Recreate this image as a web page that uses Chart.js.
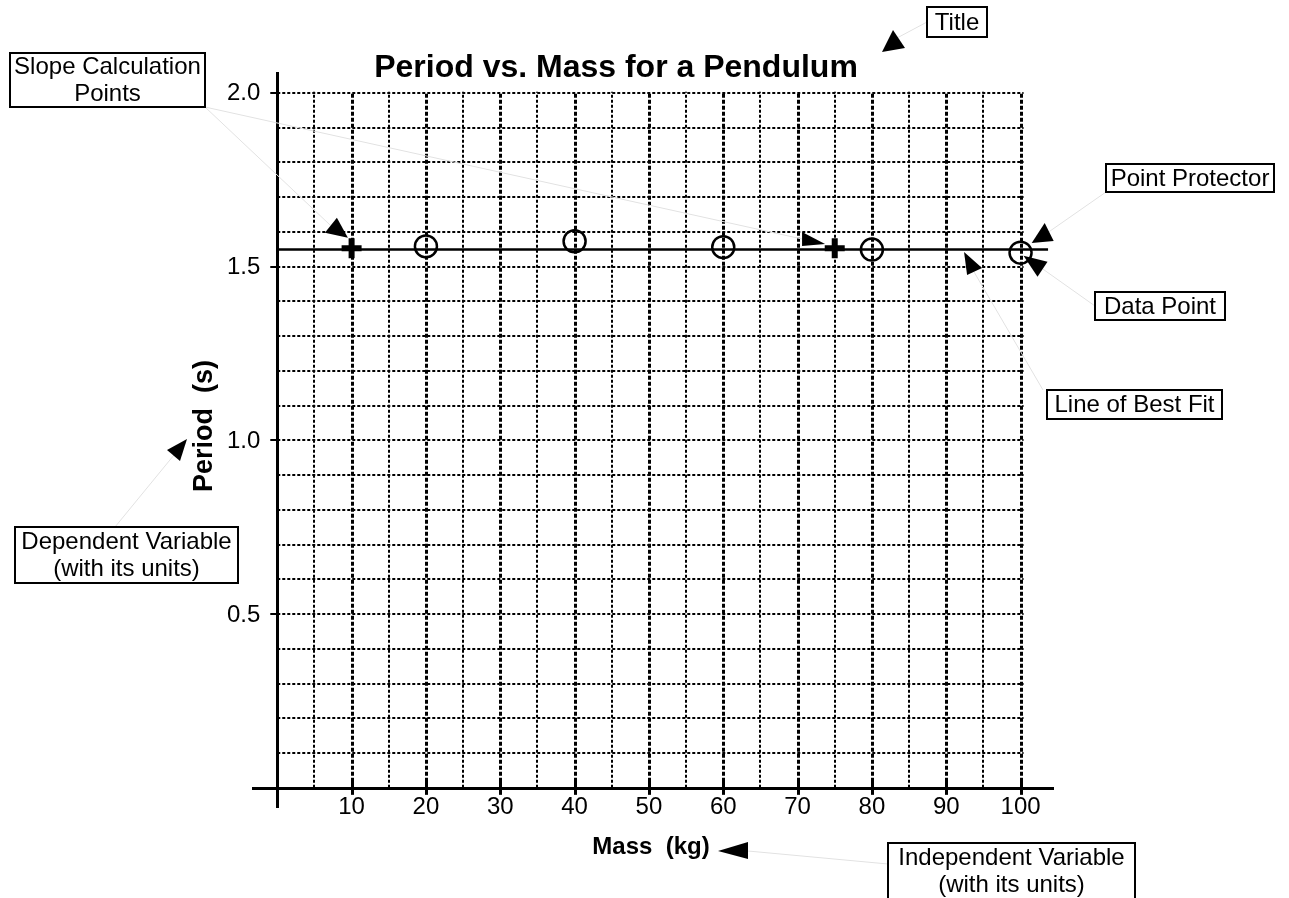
<!DOCTYPE html>
<html>
<head>
<meta charset="utf-8">
<script src="https://cdn.jsdelivr.net/npm/chart.js@4.4.1/dist/chart.umd.min.js"></script>
<style>
  html, body { margin: 0; padding: 0; background: #fff; }
  #wrap { width: 1289px; height: 898px; position: relative; }
</style>
</head>
<body>
<div id="wrap"><canvas id="chart" width="1289" height="898"></canvas></div>
<script>
// data
const masses = [20, 40, 60, 80, 100];
const periods = [1.558, 1.573, 1.556, 1.549, 1.540];
const slopeMasses = [10, 75];
const slopePeriods = [1.553, 1.553];
const fitMasses = [0, 103.7];
const fitPeriods = [1.549, 1.549];

const xTickValues = [10, 20, 30, 40, 50, 60, 70, 80, 90, 100];
const xTickLabels = ['10', '20', '30', '40', '50', '60', '70', '80', '90', '100'];
const yTickValues = [0.5, 1.0, 1.5, 2.0];
const yTickLabels = ['0.5', '1.0', '1.5', '2.0'];

const FONT = '"Liberation Sans", Arial, Helvetica, sans-serif';

// callout boxes (canvas px)
const boxes = [
  { lines: ['Title'], x: 927, y: 7, w: 60, h: 30 },
  { lines: ['Slope Calculation', 'Points'], x: 10, y: 53, w: 195, h: 54 },
  { lines: ['Point Protector'], x: 1106, y: 164, w: 168, h: 28 },
  { lines: ['Data Point'], x: 1095, y: 292, w: 130, h: 28 },
  { lines: ['Line of Best Fit'], x: 1047, y: 390, w: 175, h: 29 },
  { lines: ['Dependent Variable', '(with its units)'], x: 15, y: 527, w: 223, h: 56 },
  { lines: ['Independent Variable', '(with its units)'], x: 888, y: 843, w: 247, h: 56 }
];

// arrows: tip in data units (d) or canvas px (p); corners and line start are px offsets from the tip
const arrows = [
  { p: [882, 52], c: [[23, -4], [11, -22]], from: [15, -14], link: [927, 22] },
  { d: [9.5, 1.583], c: [[-23, -5], [-11, -20]], from: [-17, -12], link: [205, 107] },
  { d: [73.7, 1.565], c: [[-23, -12], [-23, 2]], from: [-23, -5], link: [205, 107] },
  { d: [101.5, 1.568], c: [[13, -20], [22, -2]], from: [17, -11], link: [1106, 192] },
  { d: [100.4, 1.531], c: [[24, 6], [14, 21]], from: [19, 13], link: [1095, 306] },
  { d: [92.4, 1.542], c: [[3, 23], [18, 16]], from: [10, 20], link: [1043, 390] },
  { p: [187, 439], c: [[-20, 11], [-7, 22]], from: [-13, 16], link: [115, 527] },
  { p: [718, 851], c: [[30, -9], [30, 8]], from: [30, 0], link: [888, 864] }
];

function pts(xs, ys) {
  return xs.map((x, i) => ({ x: x, y: ys[i] }));
}

const paperPlugin = {
  id: 'paper',
  beforeDatasetsDraw(chart) {
    const ctx = chart.ctx;
    const xs = chart.scales.x;
    const ys = chart.scales.y;
    const area = chart.chartArea;
    const x0 = xs.getPixelForValue(0);
    const y0 = ys.getPixelForValue(0);
    const xEnd = xs.getPixelForValue(100);
    const yTop = ys.getPixelForValue(2.0);

    ctx.save();
    ctx.strokeStyle = '#000';
    ctx.setLineDash([3, 2]);
    // horizontal grid every 0.1
    ctx.lineWidth = 2;
    for (let i = 1; i <= 20; i++) {
      const y = Math.round(ys.getPixelForValue(i / 10));
      ctx.beginPath();
      ctx.moveTo(x0, y);
      ctx.lineTo(xEnd + 3, y);
      ctx.stroke();
    }
    // vertical grid every 5
    for (let v = 5; v <= 100; v += 5) {
      const major = v % 10 === 0;
      const x = Math.round(xs.getPixelForValue(v)) + (major ? 0.5 : 0);
      ctx.lineWidth = major ? 3 : 2;
      ctx.setLineDash(major ? [4, 2] : [3, 2]);
      ctx.beginPath();
      ctx.moveTo(x, y0);
      ctx.lineTo(x, yTop - 1);
      ctx.stroke();
    }
    ctx.setLineDash([]);

    // axis lines
    ctx.lineWidth = 3;
    ctx.beginPath();
    ctx.moveTo(Math.round(x0) + 0.5, area.top);
    ctx.lineTo(Math.round(x0) + 0.5, area.bottom);
    ctx.moveTo(area.left, Math.round(y0) + 0.5);
    ctx.lineTo(area.right, Math.round(y0) + 0.5);
    ctx.stroke();

    // ticks
    ctx.lineWidth = 3;
    xTickValues.forEach(v => {
      const x = Math.round(xs.getPixelForValue(v)) + 0.5;
      ctx.beginPath();
      ctx.moveTo(x, y0 - 8);
      ctx.lineTo(x, y0 + 7);
      ctx.stroke();
    });
    ctx.lineWidth = 2;
    yTickValues.forEach(v => {
      const y = Math.round(ys.getPixelForValue(v));
      ctx.beginPath();
      ctx.moveTo(x0 - 7, y);
      ctx.lineTo(x0, y);
      ctx.stroke();
    });

    // tick labels
    ctx.fillStyle = '#000';
    ctx.font = '24px ' + FONT;
    ctx.textAlign = 'center';
    ctx.textBaseline = 'middle';
    xTickValues.forEach((v, i) => {
      ctx.fillText(xTickLabels[i], xs.getPixelForValue(v), y0 + 20);
    });
    ctx.textAlign = 'right';
    yTickValues.forEach((v, i) => {
      ctx.fillText(yTickLabels[i], x0 - 17, ys.getPixelForValue(v) + 1);
    });

    // titles
    ctx.textAlign = 'center';
    ctx.font = 'bold 32px ' + FONT;
    ctx.fillText('Period vs. Mass for a Pendulum', 616, 68);
    ctx.font = 'bold 24px ' + FONT;
    ctx.fillText('Mass  (kg)', 651, 847);
    ctx.save();
    ctx.translate(212, 492);
    ctx.rotate(-Math.PI / 2);
    ctx.textAlign = 'left';
    ctx.textBaseline = 'alphabetic';
    ctx.font = 'bold 27px ' + FONT;
    ctx.fillText('Period  (s)', 0, 0);
    ctx.restore();
    ctx.restore();
  },
  afterDatasetsDraw(chart) {
    const ctx = chart.ctx;
    const xs = chart.scales.x;
    const ys = chart.scales.y;
    ctx.save();

    arrows.forEach(a => {
      const tip = a.d ? [xs.getPixelForValue(a.d[0]), ys.getPixelForValue(a.d[1])] : a.p;
      // faint leader line
      ctx.strokeStyle = '#e2e2e2';
      ctx.lineWidth = 1;
      ctx.beginPath();
      ctx.moveTo(tip[0] + a.from[0], tip[1] + a.from[1]);
      ctx.lineTo(a.link[0], a.link[1]);
      ctx.stroke();
      // head
      ctx.fillStyle = '#000';
      ctx.beginPath();
      ctx.moveTo(tip[0], tip[1]);
      ctx.lineTo(tip[0] + a.c[0][0], tip[1] + a.c[0][1]);
      ctx.lineTo(tip[0] + a.c[1][0], tip[1] + a.c[1][1]);
      ctx.closePath();
      ctx.fill();
    });

    ctx.font = '24px ' + FONT;
    ctx.textAlign = 'center';
    ctx.textBaseline = 'middle';
    boxes.forEach(b => {
      ctx.fillStyle = '#fff';
      ctx.fillRect(b.x, b.y, b.w, b.h);
      ctx.strokeStyle = '#000';
      ctx.lineWidth = 2;
      ctx.strokeRect(b.x, b.y, b.w, b.h);
      ctx.fillStyle = '#000';
      const lh = 27;
      const start = b.y + b.h / 2 - (b.lines.length - 1) * lh / 2 + 1;
      b.lines.forEach((t, i) => ctx.fillText(t, b.x + b.w / 2, start + i * lh));
    });
    ctx.restore();
  }
};

new Chart(document.getElementById('chart').getContext('2d'), {
  type: 'scatter',
  data: {
    datasets: [
      {
        label: 'Line of Best Fit',
        type: 'line',
        data: pts(fitMasses, fitPeriods),
        borderColor: '#000',
        borderWidth: 2.5,
        pointRadius: 0,
        fill: false
      },
      {
        label: 'Data',
        data: pts(masses, periods),
        pointStyle: 'circle',
        pointRadius: 11,
        borderWidth: 2.5,
        borderColor: '#000',
        backgroundColor: 'rgba(0,0,0,0)'
      },
      {
        label: 'Slope Points',
        data: pts(slopeMasses, slopePeriods),
        pointStyle: 'cross',
        pointRadius: 10,
        borderWidth: 6,
        borderColor: '#000'
      }
    ]
  },
  options: {
    responsive: false,
    devicePixelRatio: 1,
    animation: false,
    events: [],
    layout: {
      padding: { left: 252, right: 235, top: 72, bottom: 90 }
    },
    scales: {
      x: { type: 'linear', min: -3.4, max: 104.5, display: false },
      y: { type: 'linear', min: -0.058, max: 2.06, display: false }
    },
    plugins: {
      legend: { display: false },
      title: { display: false },
      tooltip: { enabled: false }
    }
  },
  plugins: [paperPlugin]
});
</script>
</body>
</html>
